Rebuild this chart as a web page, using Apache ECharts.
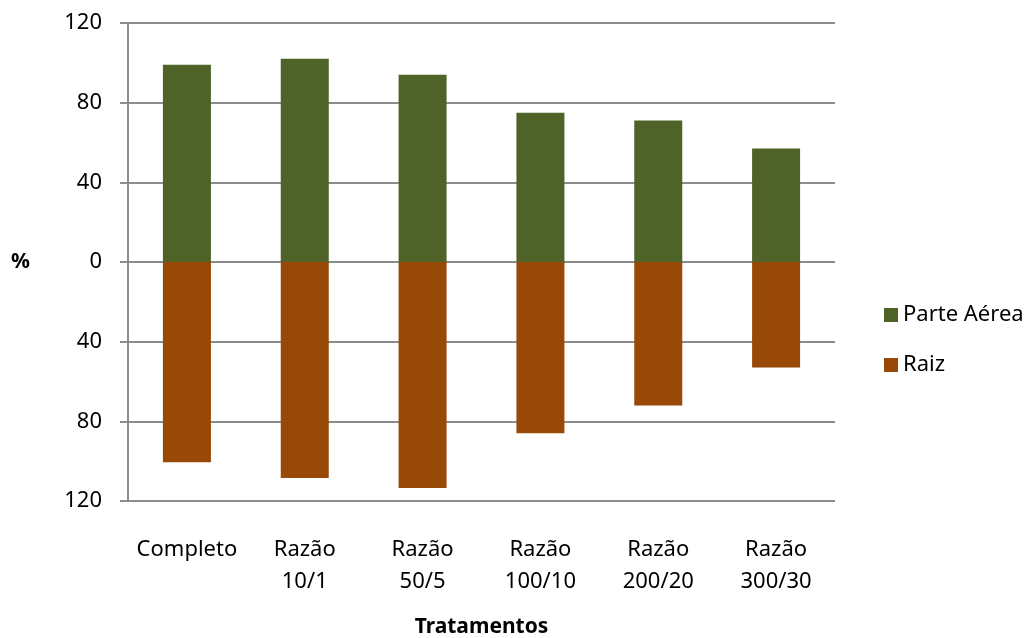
<!doctype html>
<html>
<head>
    <meta charset="utf-8">
    <title>Tratamentos</title>
    <script type="text/javascript" src="https://cdn.jsdelivr.net/npm/echarts@6/dist/echarts.min.js"></script>
    <style>
        html, body { margin: 0; padding: 0; background: #fff; }
        #container { width: 1029px; height: 638px; }
    </style>
</head>
<body>
<div id="container"></div>
<script type="text/javascript">
    // dados
    var categorias = ['Completo', 'Razão\n10/1', 'Razão\n50/5', 'Razão\n100/10', 'Razão\n200/20', 'Razão\n300/30'];
    var parteAerea = [99, 102, 94, 75, 71, 57];
    var raiz = [100.5, 108.5, 113.5, 86, 72, 53];
    var yTicks = [-120, -80, -40, 0, 40, 80, 120];

    var fonte = 'Noto Sans';
    var cinza = '#8c8c8c';

    var dom = document.getElementById("container");
    var myChart = echarts.init(dom);

    var option = {
        animation: false,
        textStyle: { fontFamily: fonte },
        grid: { left: 128, right: 194, top: 23, bottom: 137, outerBoundsMode: 'none', containLabel: false },
        legend: {
            orient: 'vertical',
            left: 879,
            top: 299,
            itemWidth: 14,
            itemHeight: 14,
            itemGap: 28,
            icon: 'rect',
            textStyle: { fontSize: 22, color: '#000', fontFamily: fonte },
            data: ['Parte Aérea', 'Raiz']
        },
        xAxis: {
            type: 'category',
            data: categorias,
            name: 'Tratamentos',
            nameLocation: 'middle',
            nameGap: 116,
            nameTextStyle: { fontSize: 21, fontWeight: 'bold', color: '#000' },
            axisLine: { show: false },
            axisTick: { show: false },
            axisLabel: { fontSize: 22, color: '#000', margin: 33, lineHeight: 32, interval: 0 }
        },
        yAxis: {
            type: 'value',
            min: yTicks[0],
            max: yTicks[yTicks.length - 1],
            interval: 40,
            name: '%',
            nameLocation: 'middle',
            nameGap: 98,
            nameRotate: 0,
            nameTextStyle: { fontSize: 21, fontWeight: 'bold', color: '#000' },
            axisLine: { show: true, lineStyle: { color: cinza, width: 2 } },
            axisTick: { show: true, inside: false, length: 8, lineStyle: { color: cinza, width: 2 } },
            axisLabel: {
                fontSize: 22, color: '#000', margin: 26,
                formatter: function (v) { return Math.abs(v); }
            },
            splitLine: { show: true, lineStyle: { color: cinza, width: 2 } }
        },
        series: [
            {
                name: 'Parte Aérea',
                type: 'bar',
                stack: 'total',
                barWidth: 48,
                itemStyle: { color: '#4f6228' },
                data: parteAerea
            },
            {
                name: 'Raiz',
                type: 'bar',
                stack: 'total',
                barWidth: 48,
                itemStyle: { color: '#984807' },
                data: raiz.map(function (v) { return -v; })
            }
        ]
    };

    if (option && typeof option === "object") {
        myChart.setOption(option, true);
    }
</script>
</body>
</html>
